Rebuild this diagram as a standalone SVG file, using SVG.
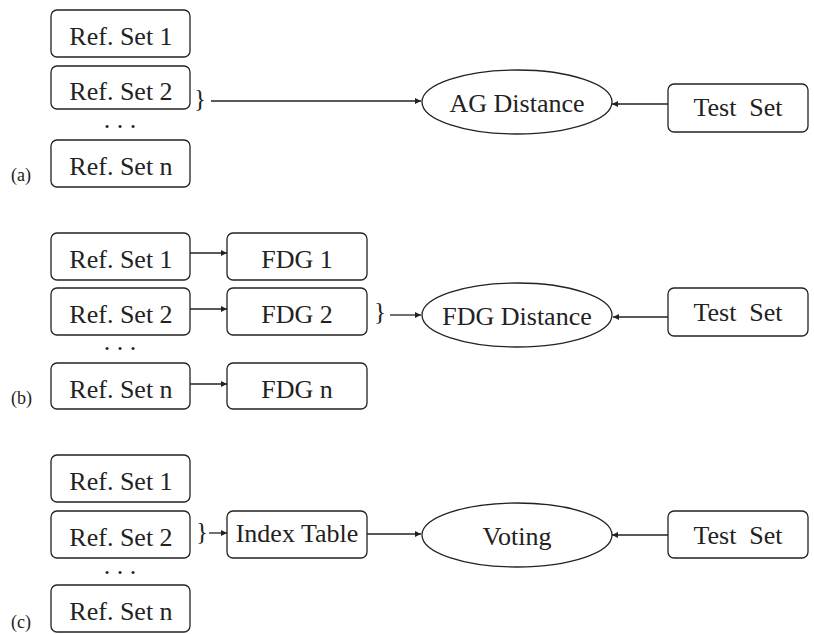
<svg xmlns="http://www.w3.org/2000/svg" width="814" height="634" viewBox="0 0 814 634" font-family="'Liberation Serif', 'Times New Roman', 'DejaVu Serif', serif">
<defs>
<marker id="ah" viewBox="0 0 10 10" refX="10" refY="5" markerWidth="8" markerHeight="6" markerUnits="userSpaceOnUse" orient="auto">
<path d="M0,0 L10,5 L0,10 z" fill="#222"/>
</marker>
<style>
rect{fill:#fff;stroke:#222;stroke-width:1.3}
ellipse{fill:#fff;stroke:#222;stroke-width:1.3}
text{font-family:'Liberation Serif','Times New Roman','DejaVu Serif',serif;font-size:26px;fill:#222;text-anchor:middle}
.lbl{font-size:18px;text-anchor:start}
.br{font-size:25px}
line{stroke:#222;stroke-width:1.3;marker-end:url(#ah)}
</style>
</defs>
<rect width="814" height="634" fill="#fff" style="stroke:none"/>

<!-- Panel (a) -->
<text class="lbl" x="11" y="181">(a)</text>
<g id="a_ref1"><rect x="51" y="10" width="139" height="47" rx="6"/><text x="121" y="45">Ref. Set 1</text></g>
<g id="a_ref2"><rect x="51" y="66" width="139" height="43" rx="6"/><text x="121" y="100">Ref. Set 2</text></g>
<text x="120" y="128">. . .</text>
<g id="a_refn"><rect x="51" y="140" width="139" height="47" rx="6"/><text x="121" y="175">Ref. Set n</text></g>
<text class="br" x="200" y="107">}</text>
<g id="a_ag"><ellipse cx="517" cy="102" rx="95" ry="32"/><text x="517" y="112">AG Distance</text></g>
<g id="a_test"><rect x="668" y="84" width="140" height="48" rx="6"/><text x="738" y="116" xml:space="preserve">Test  Set</text></g>

<!-- Panel (b) -->
<text class="lbl" x="11" y="404">(b)</text>
<g id="b_ref1"><rect x="51" y="233" width="139" height="47" rx="6"/><text x="121" y="268">Ref. Set 1</text></g>
<g id="b_ref2"><rect x="51" y="288" width="139" height="47" rx="6"/><text x="121" y="323">Ref. Set 2</text></g>
<text x="120" y="350">. . .</text>
<g id="b_refn"><rect x="51" y="363" width="139" height="46" rx="6"/><text x="121" y="398">Ref. Set n</text></g>
<g id="b_fdg1"><rect x="227" y="233" width="140" height="47" rx="6"/><text x="297" y="268">FDG 1</text></g>
<g id="b_fdg2"><rect x="227" y="288" width="140" height="47" rx="6"/><text x="297" y="323">FDG 2</text></g>
<g id="b_fdgn"><rect x="227" y="363" width="140" height="46" rx="6"/><text x="297" y="398">FDG n</text></g>
<text class="br" x="380" y="320">}</text>
<g id="b_fdgd"><ellipse cx="517" cy="315" rx="95" ry="32"/><text x="517" y="325">FDG Distance</text></g>
<g id="b_test"><rect x="668" y="288" width="140" height="48" rx="6"/><text x="738" y="321" xml:space="preserve">Test  Set</text></g>

<!-- Panel (c) -->
<text class="lbl" x="11" y="628">(c)</text>
<g id="c_ref1"><rect x="51" y="455" width="139" height="47" rx="6"/><text x="121" y="490">Ref. Set 1</text></g>
<g id="c_ref2"><rect x="51" y="511" width="139" height="47" rx="6"/><text x="121" y="546">Ref. Set 2</text></g>
<text x="120" y="574">. . .</text>
<g id="c_refn"><rect x="51" y="585" width="139" height="47" rx="6"/><text x="121" y="620">Ref. Set n</text></g>
<text class="br" x="202" y="540">}</text>
<g id="c_index"><rect x="227" y="511" width="140" height="47" rx="6"/><text x="297" y="542">Index Table</text></g>
<g id="c_vote"><ellipse cx="517" cy="535" rx="95" ry="32"/><text x="517" y="545">Voting</text></g>
<g id="c_test"><rect x="668" y="511" width="140" height="47" rx="6"/><text x="738" y="544" xml:space="preserve">Test  Set</text></g>

<g id="connectors">
<line x1="211" y1="101" x2="421" y2="101"/>
<line x1="668" y1="104" x2="612" y2="104"/>
<line x1="190" y1="253" x2="227" y2="253"/>
<line x1="190" y1="309" x2="227" y2="309"/>
<line x1="190" y1="384" x2="227" y2="384"/>
<line x1="390" y1="315" x2="421" y2="315"/>
<line x1="668" y1="317" x2="613" y2="317"/>
<line x1="209" y1="533" x2="227" y2="533"/>
<line x1="367" y1="534" x2="421" y2="534"/>
<line x1="668" y1="535" x2="612" y2="535"/>
</g>
</svg>
